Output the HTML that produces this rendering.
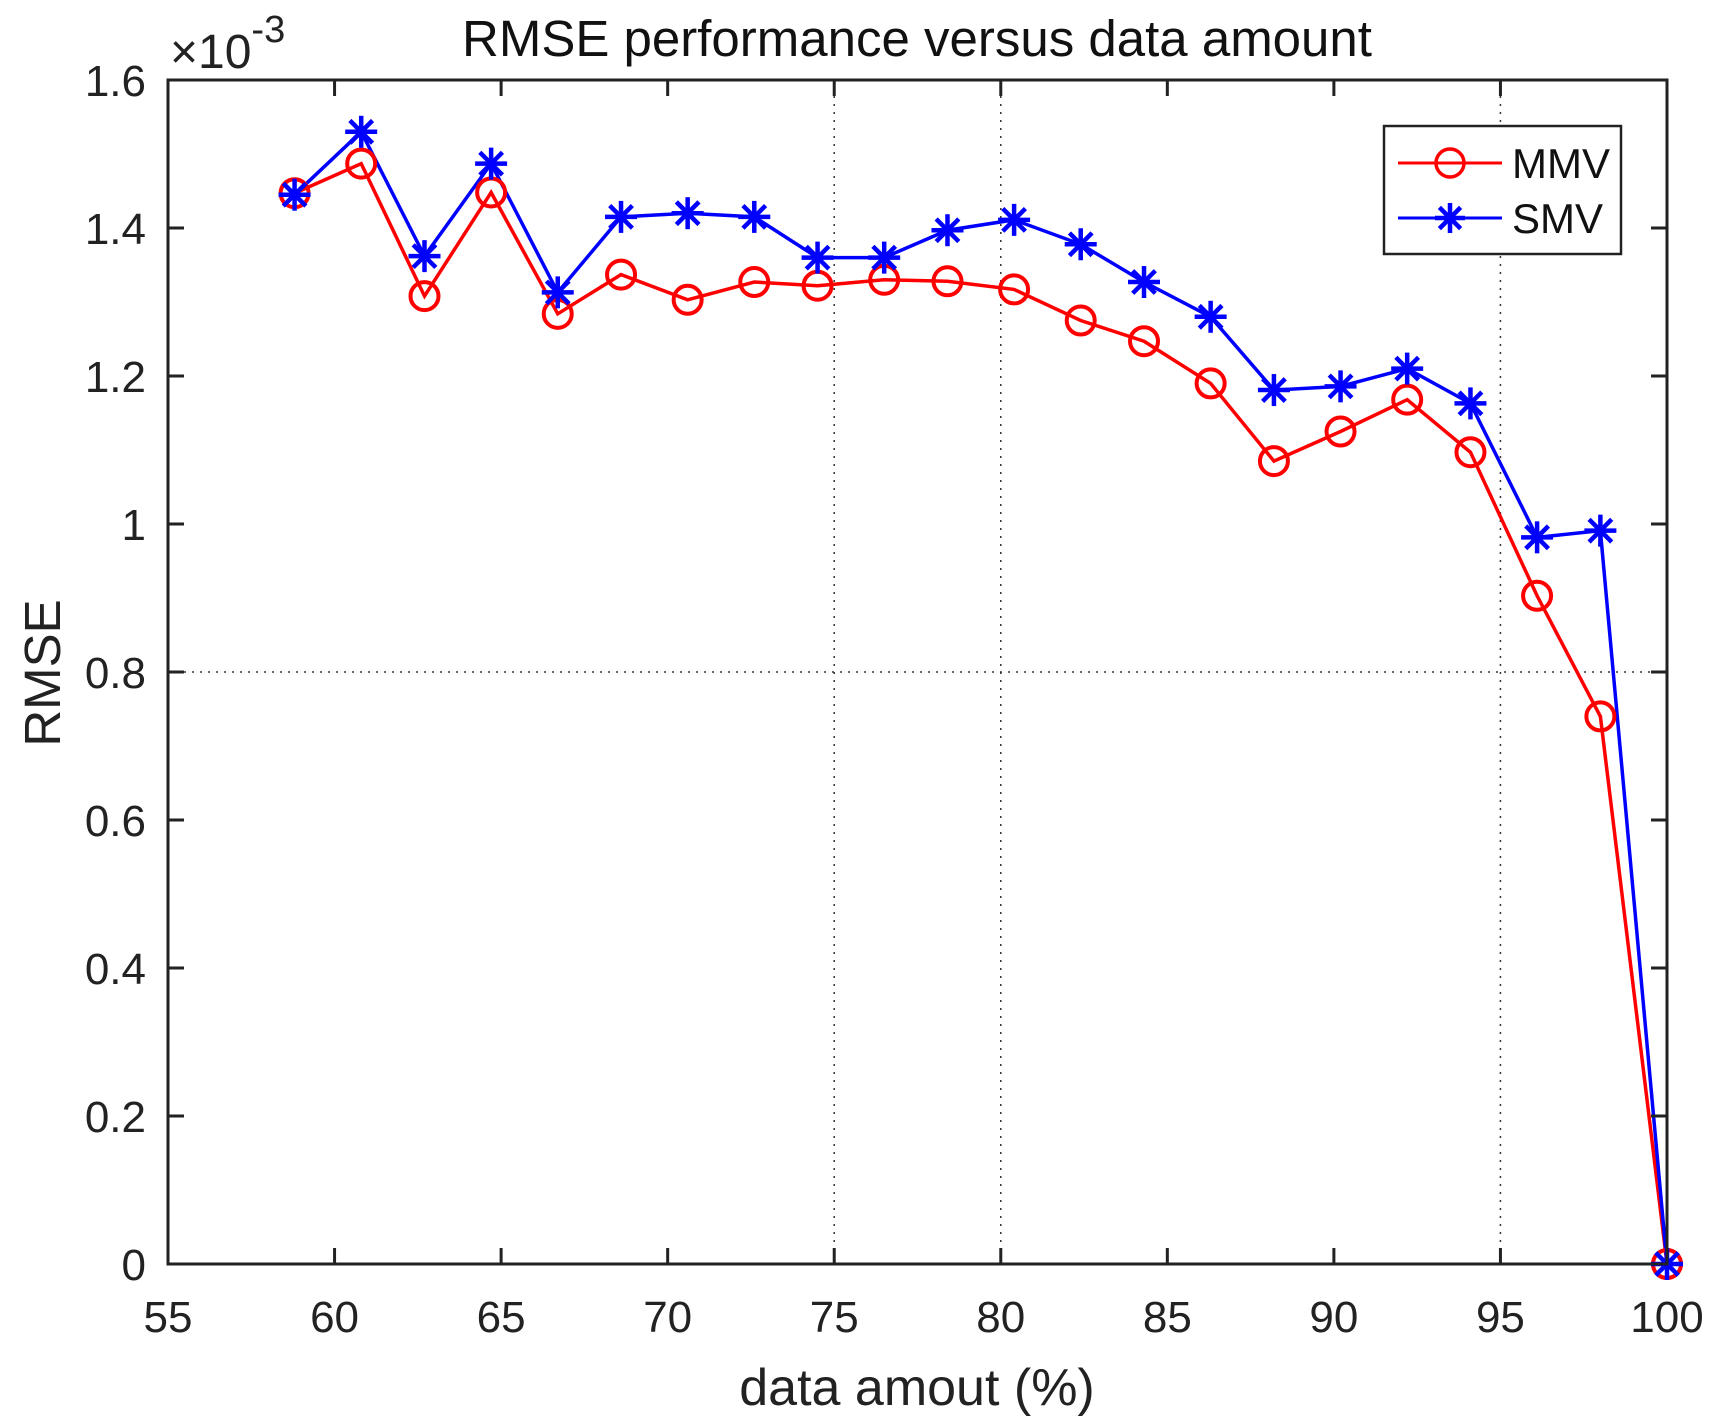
<!DOCTYPE html>
<html><head><meta charset="utf-8"><style>
body{margin:0;background:#fff}
svg{display:block;font-family:"Liberation Sans",Arial,sans-serif}
</style></head><body>
<svg id="chart" width="1715" height="1428" viewBox="0 0 1715 1428" xmlns="http://www.w3.org/2000/svg">
<rect width="1715" height="1428" fill="#fff"/>
<g id="grid"></g>
<g id="series"></g>
<g id="axes"></g>
<text x="917" y="56" font-size="51" text-anchor="middle" fill="#111">RMSE performance versus data amount</text>
<text x="917" y="1405" font-size="52" text-anchor="middle" fill="#222">data amout (%)</text>
<text transform="translate(60,673) rotate(-90)" font-size="51" text-anchor="middle" fill="#222">RMSE</text>
<text x="170" y="68" font-size="48" fill="#222">×10<tspan dy="-26" font-size="38">-3</tspan></text>
<g>
<rect x="1384" y="126" width="237" height="128" fill="#fff" stroke="#222" stroke-width="2.5"/>
<line x1="1398" y1="163" x2="1502" y2="163" stroke="#f00" stroke-width="3"/>
<circle cx="1450" cy="163" r="14" fill="none" stroke="#f00" stroke-width="3.5"/>
<text x="1512" y="178" font-size="42" fill="#111">MMV</text>
<line x1="1398" y1="218" x2="1502" y2="218" stroke="#00f" stroke-width="3"/>
<g id="legstar"></g>
<text x="1512" y="233" font-size="42" fill="#111">SMV</text>
</g>
</svg>
<script>
const xValues=[58.8,60.8,62.7,64.7,66.7,68.6,70.6,72.6,74.5,76.5,78.4,80.4,82.4,84.3,86.3,88.2,90.2,92.2,94.1,96.1,98.0,100];
const mmv=[1.447,1.487,1.308,1.448,1.284,1.337,1.303,1.327,1.322,1.330,1.328,1.317,1.275,1.247,1.190,1.085,1.125,1.168,1.097,0.903,0.740,0];
const smv=[1.445,1.530,1.362,1.487,1.313,1.415,1.420,1.415,1.360,1.360,1.397,1.411,1.378,1.327,1.280,1.181,1.186,1.210,1.163,0.982,0.991,0];
const xTicks=[55,60,65,70,75,80,85,90,95,100];
const yTicks=[0,0.2,0.4,0.6,0.8,1,1.2,1.4,1.6];
const xGrid=[75,80,95];
const yGrid=[0.8];
const L=168,R=1667,T=80,B=1264;
const sx=v=>L+(v-55)/45*(R-L);
const sy=v=>B-v/1.6*(B-T);
const NS='http://www.w3.org/2000/svg';
function mk(tag,attrs,parent){const e=document.createElementNS(NS,tag);for(const k in attrs)e.setAttribute(k,attrs[k]);parent.appendChild(e);return e;}
const grid=document.getElementById('grid'),axes=document.getElementById('axes'),ser=document.getElementById('series');
xGrid.forEach(v=>{const l=mk('line',{x1:sx(v),x2:sx(v),y1:T,y2:B,stroke:'#333','stroke-width':1.5,'stroke-dasharray':'2 6'},grid);

});
yGrid.forEach(v=>{const l=mk('line',{x1:L,x2:R,y1:sy(v),y2:sy(v),stroke:'#333','stroke-width':1.5,'stroke-dasharray':'2 6'},grid);

});
const frame=mk('rect',{x:L,y:T,width:R-L,height:B-T,fill:'none',stroke:'#222','stroke-width':3},axes);


xTicks.forEach(v=>{const x=sx(v);
mk('line',{x1:x,x2:x,y1:B,y2:B-16,stroke:'#222','stroke-width':3},axes);
mk('line',{x1:x,x2:x,y1:T,y2:T+16,stroke:'#222','stroke-width':3},axes);
const t=mk('text',{x:x,y:1332,'font-size':44,'text-anchor':'middle',fill:'#222'},axes);t.textContent=v;

});
yTicks.forEach(v=>{const y=sy(v);
mk('line',{x1:L,x2:L+16,y1:y,y2:y,stroke:'#222','stroke-width':3},axes);
mk('line',{x1:R,x2:R-16,y1:y,y2:y,stroke:'#222','stroke-width':3},axes);
const t=mk('text',{x:146,y:y+16,'font-size':44,'text-anchor':'end',fill:'#222'},axes);t.textContent=String(v);

});
function star(cx,cy,parent,r){const g=mk('g',{stroke:'#00f','stroke-width':4.5},parent);
for(let i=0;i<4;i++){const a=i*Math.PI/4;mk('line',{x1:cx-r*Math.cos(a),y1:cy-r*Math.sin(a),x2:cx+r*Math.cos(a),y2:cy+r*Math.sin(a)},g);}return g;}
const p1=mk('polyline',{points:xValues.map((x,i)=>sx(x)+','+sy(mmv[i])).join(' '),fill:'none',stroke:'#f00','stroke-width':3.5},ser);


const p2=mk('polyline',{points:xValues.map((x,i)=>sx(x)+','+sy(smv[i])).join(' '),fill:'none',stroke:'#00f','stroke-width':3.5},ser);


xValues.forEach((x,i)=>{const c=mk('circle',{cx:sx(x),cy:sy(mmv[i]),r:14,fill:'none',stroke:'#f00','stroke-width':4},ser);

});
xValues.forEach((x,i)=>{const s=star(sx(x),sy(smv[i]),ser,16);

});
star(1450,218,document.getElementById('legstar'),15);
</script>
</body></html>
